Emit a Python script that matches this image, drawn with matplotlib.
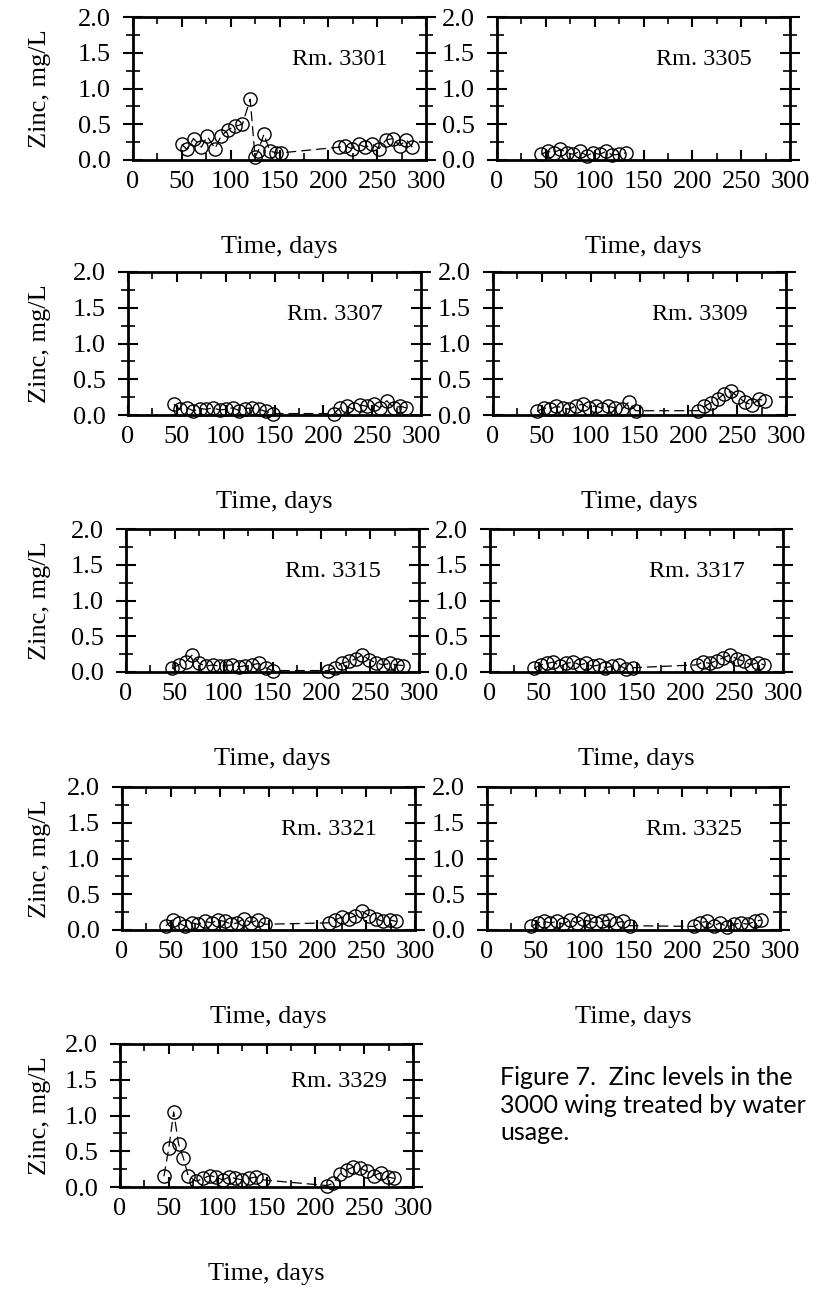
import matplotlib
matplotlib.use("Agg")
import matplotlib.pyplot as plt
from matplotlib.ticker import FixedLocator, MultipleLocator

plt.rcParams['font.family'] = ['Liberation Serif', 'DejaVu Serif']

# ---------------- data ----------------
rooms = ['Rm. 3301', 'Rm. 3305', 'Rm. 3307', 'Rm. 3309', 'Rm. 3315',
         'Rm. 3317', 'Rm. 3321', 'Rm. 3325', 'Rm. 3329']

days_3301 = [50, 55, 62, 70, 76, 84, 90, 97, 104, 112, 120, 125, 128, 134, 140, 146, 152,
             211, 217, 224, 231, 238, 245, 252, 259, 266, 273, 280, 286]
zinc_3301 = [0.22, 0.15, 0.30, 0.18, 0.33, 0.16, 0.33, 0.42, 0.47, 0.50, 0.85, 0.04, 0.12, 0.36, 0.13, 0.10, 0.10,
             0.18, 0.20, 0.16, 0.22, 0.18, 0.22, 0.16, 0.28, 0.30, 0.20, 0.28, 0.18]

days_3305 = [45, 52, 58, 65, 72, 78, 85, 92, 98, 105, 112, 118, 125, 132]
zinc_3305 = [0.08, 0.12, 0.10, 0.15, 0.10, 0.08, 0.12, 0.06, 0.10, 0.08, 0.12, 0.07, 0.08, 0.10]

days_3307 = [47, 53, 60, 67, 74, 80, 87, 94, 100, 107, 114, 120, 127, 134, 141, 148,
             211, 217, 224, 231, 238, 245, 252, 258, 265, 272, 279, 285]
zinc_3307 = [0.15, 0.08, 0.10, 0.06, 0.09, 0.08, 0.10, 0.07, 0.08, 0.10, 0.06, 0.09, 0.10, 0.08, 0.05, 0.02,
             0.02, 0.10, 0.12, 0.08, 0.14, 0.12, 0.15, 0.10, 0.20, 0.10, 0.12, 0.10]

days_3309 = [45, 52, 58, 65, 72, 78, 85, 92, 98, 105, 112, 118, 125, 132, 139, 146,
             210, 216, 223, 230, 237, 244, 251, 258, 265, 272, 279]
zinc_3309 = [0.05, 0.10, 0.08, 0.12, 0.10, 0.08, 0.13, 0.15, 0.10, 0.13, 0.09, 0.12, 0.10, 0.08, 0.18, 0.06,
             0.06, 0.12, 0.17, 0.22, 0.30, 0.33, 0.25, 0.18, 0.14, 0.22, 0.20]

days_3315 = [47, 54, 61, 68, 75, 82, 89, 96, 102, 109, 116, 122, 129, 136, 143, 150,
             207, 214, 221, 228, 235, 242, 249, 256, 263, 270, 277, 284]
zinc_3315 = [0.05, 0.10, 0.14, 0.24, 0.12, 0.08, 0.10, 0.08, 0.09, 0.10, 0.07, 0.09, 0.10, 0.12, 0.06, 0.02,
             0.02, 0.06, 0.12, 0.15, 0.18, 0.24, 0.17, 0.13, 0.10, 0.12, 0.10, 0.09]

days_3317 = [45, 52, 58, 65, 72, 78, 85, 92, 98, 105, 112, 118, 125, 132, 139, 146,
             212, 218, 225, 232, 239, 246, 253, 260, 267, 274, 281]
zinc_3317 = [0.05, 0.10, 0.12, 0.14, 0.08, 0.12, 0.14, 0.10, 0.12, 0.08, 0.10, 0.06, 0.08, 0.10, 0.04, 0.06,
             0.10, 0.14, 0.12, 0.16, 0.20, 0.24, 0.18, 0.15, 0.10, 0.13, 0.10]

days_3321 = [45, 52, 58, 65, 72, 78, 85, 92, 98, 105, 112, 118, 125, 132, 139, 146,
             212, 218, 225, 232, 239, 246, 253, 260, 267, 274, 281]
zinc_3321 = [0.06, 0.14, 0.10, 0.05, 0.10, 0.08, 0.12, 0.10, 0.14, 0.12, 0.08, 0.10, 0.16, 0.10, 0.14, 0.08,
             0.10, 0.14, 0.18, 0.16, 0.20, 0.26, 0.20, 0.16, 0.12, 0.14, 0.12]

days_3325 = [45, 52, 58, 65, 72, 78, 85, 92, 98, 105, 112, 118, 125, 132, 139, 146,
             212, 218, 225, 232, 239, 246, 253, 260, 267, 274, 281]
zinc_3325 = [0.05, 0.10, 0.12, 0.10, 0.12, 0.08, 0.14, 0.10, 0.15, 0.12, 0.10, 0.12, 0.14, 0.10, 0.12, 0.06,
             0.05, 0.10, 0.12, 0.06, 0.10, 0.04, 0.08, 0.10, 0.08, 0.12, 0.14]

days_3329 = [45, 50, 55, 60, 65, 70, 78, 85, 92, 98, 105, 112, 118, 125, 132, 139, 146,
             212, 218, 225, 232, 239, 246, 253, 260, 267, 274, 281]
zinc_3329 = [0.15, 0.55, 1.05, 0.60, 0.40, 0.15, 0.08, 0.12, 0.16, 0.14, 0.10, 0.14, 0.12, 0.10, 0.12, 0.14, 0.10,
             0.02, 0.05, 0.18, 0.24, 0.28, 0.26, 0.22, 0.16, 0.20, 0.14, 0.12]

series_days = [days_3301, days_3305, days_3307, days_3309, days_3315,
               days_3317, days_3321, days_3325, days_3329]
series_zinc = [zinc_3301, zinc_3305, zinc_3307, zinc_3309, zinc_3315,
               zinc_3317, zinc_3321, zinc_3325, zinc_3329]

x_ticks = [0, 50, 100, 150, 200, 250, 300]
x_tick_labels = ['0', '50', '100', '150', '200', '250', '300']
y_ticks = [0.0, 0.5, 1.0, 1.5, 2.0]
y_tick_labels = ['0.0', '0.5', '1.0', '1.5', '2.0']

x_label = 'Time, days'
y_label = 'Zinc, mg/L'
caption = 'Figure 7.  Zinc levels in the\n3000 wing treated by water\nusage.'

# ---------------- layout (pixels) ----------------
W, H = 816, 1291
fig = plt.figure(figsize=(W / 100, H / 100), dpi=100)

left_x = [133, 128, 126, 122, 120]
right_x = [497, 493, 490, 487]
bottoms = [160, 415, 672, 930, 1187]
AW, AH = 293, 143
room_pos = [(0.87, 0.70)] * 8 + [(0.91, 0.74)]

for i, room in enumerate(rooms):
    r, c = divmod(i, 2)
    x0 = left_x[r] if c == 0 else right_x[r]
    b = bottoms[r]
    ax = fig.add_axes([x0 / W, 1 - b / H, AW / W, AH / H])
    ax.plot(series_days[i], series_zinc[i], linestyle=(0, (8, 4)), color='black', lw=0.9,
            marker='o', ms=9.5, mfc='none', mec='black', mew=1.0, clip_on=False)
    ax.set_xlim(0, 300)
    ax.set_ylim(0, 2)
    ax.xaxis.set_major_locator(FixedLocator(x_ticks))
    ax.set_xticklabels(x_tick_labels)
    ax.xaxis.set_minor_locator(MultipleLocator(25))
    ax.yaxis.set_major_locator(FixedLocator(y_ticks))
    ax.set_yticklabels(y_tick_labels)
    ax.yaxis.set_minor_locator(MultipleLocator(0.25))
    ax.tick_params(axis='x', which='both', direction='in', top=True, bottom=True)
    ax.tick_params(axis='x', which='major', length=7, width=1.5, labelsize=19, pad=8)
    ax.tick_params(axis='x', which='minor', length=5, width=1.2)
    ax.tick_params(axis='y', which='both', direction='inout', left=True, right=True)
    ax.tick_params(axis='y', which='major', length=14, width=1.5, labelsize=19, pad=9)
    ax.tick_params(axis='y', which='minor', length=10, width=1.2)
    for s in ax.spines.values():
        s.set_linewidth(2)
    ax.text(room_pos[i][0], room_pos[i][1], room, transform=ax.transAxes,
            ha='right', va='center', fontsize=17.5)
    fig.text((x0 + AW / 2) / W, 1 - (b + 87) / H, x_label, ha='center', va='center', fontsize=19)
    if c == 0:
        fig.text(40 / W, 1 - (b - AH / 2) / H, y_label, rotation=90, ha='center', va='center', fontsize=19)

fig.text(500 / W, 1 - 1066 / H, caption, ha='left', va='top', fontsize=18,
         family=['Lato', 'DejaVu Sans'], linespacing=1.25)

fig.savefig('out.png', dpi=100)
